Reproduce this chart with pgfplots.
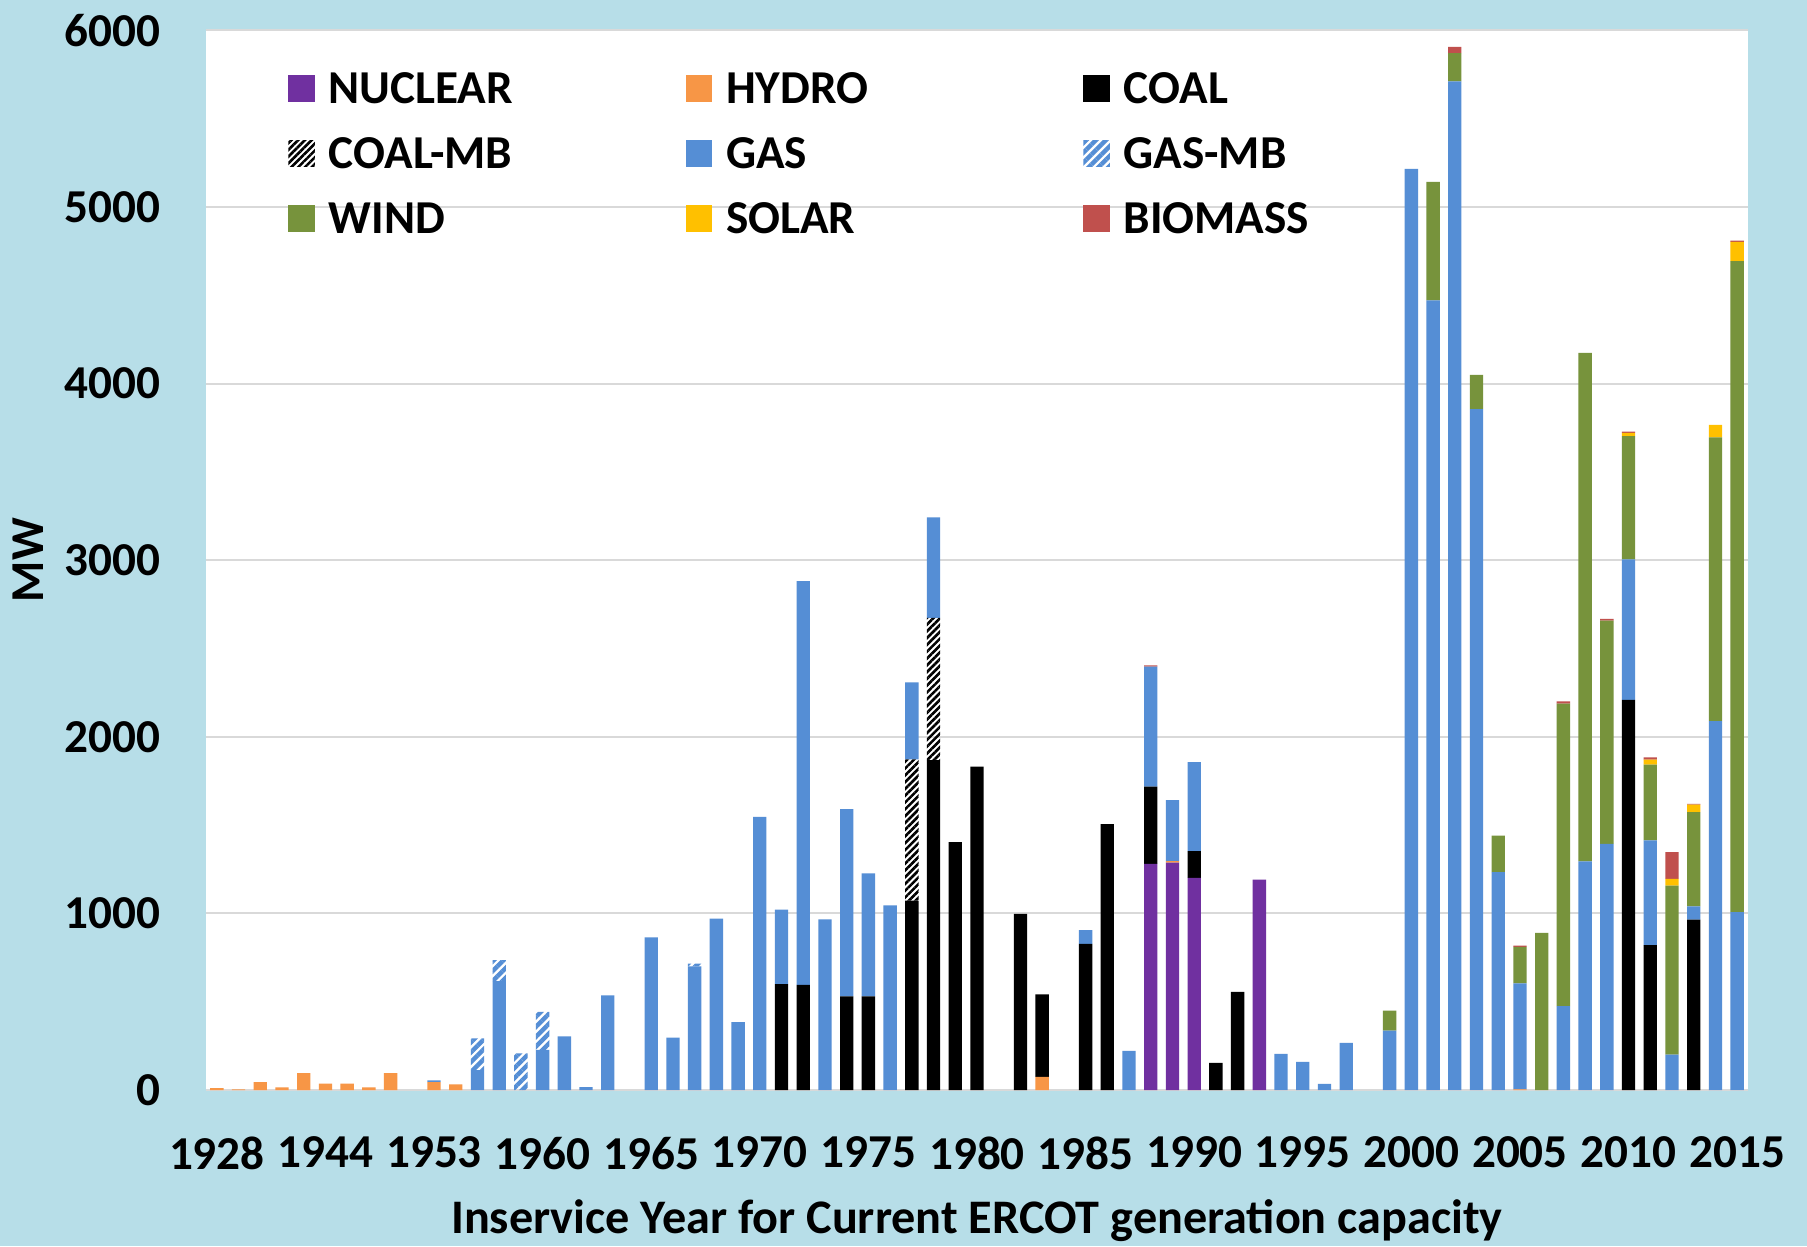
\documentclass[border=0pt]{standalone}
\usepackage{fontspec}
\setmainfont{Carlito}
\usepackage{pgfplots}
\usepackage{pgfplotstable}
\pgfplotsset{compat=1.18}
\usetikzlibrary{patterns.meta}

\definecolor{bgblue}{HTML}{B7DEE8}
\definecolor{gridgray}{HTML}{D9D9D9}
\definecolor{nuclear}{HTML}{7030A0}
\definecolor{hydro}{HTML}{F79646}
\definecolor{gas}{HTML}{558ED5}
\definecolor{wind}{HTML}{77933C}
\definecolor{solar}{HTML}{FFC000}
\definecolor{biomass}{HTML}{C0504D}

% MW of current ERCOT capacity by in-service year (categories 0..70)
\pgfplotstableread{
x nuc hyd coal coalmb gas gasmb wind solar bio
0 0 10 0 0 0 0 0 0 0
1 0 4 0 0 0 0 0 0 0
2 0 44 0 0 0 0 0 0 0
3 0 15 0 0 0 0 0 0 0
4 0 96 0 0 0 0 0 0 0
5 0 36 0 0 0 0 0 0 0
6 0 36 0 0 0 0 0 0 0
7 0 15 0 0 0 0 0 0 0
8 0 96 0 0 0 0 0 0 0
9 0 0 0 0 0 0 0 0 0
10 0 44 0 0 10 0 0 0 0
11 0 32 0 0 0 0 0 0 0
12 0 0 0 0 113 180 0 0 0
13 0 0 0 0 617 119 0 0 0
14 0 0 0 0 0 208 0 0 0
15 0 0 0 0 227 215 0 0 0
16 0 0 0 0 304 0 0 0 0
17 0 0 0 0 17 0 0 0 0
18 0 0 0 0 536 0 0 0 0
19 0 0 0 0 0 0 0 0 0
20 0 0 0 0 864 0 0 0 0
21 0 0 0 0 296 0 0 0 0
22 0 0 0 0 700 15 0 0 0
23 0 0 0 0 970 0 0 0 0
24 0 0 0 0 385 0 0 0 0
25 0 0 0 0 1547 0 0 0 0
26 0 0 600 0 422 0 0 0 0
27 0 0 595 0 2287 0 0 0 0
28 0 0 0 0 966 0 0 0 0
29 0 0 530 0 1060 0 0 0 0
30 0 0 530 0 696 0 0 0 0
31 0 0 0 0 1046 0 0 0 0
32 0 0 1072 800 436 0 0 0 0
33 0 0 1868 805 569 0 0 0 0
34 0 0 1404 0 0 0 0 0 0
35 0 0 1831 0 0 0 0 0 0
36 0 0 0 0 0 0 0 0 0
37 0 0 997 0 0 0 0 0 0
38 0 74 468 0 0 0 0 0 0
39 0 0 0 0 0 0 0 0 0
40 0 0 827 0 79 0 0 0 0
41 0 0 1505 0 0 0 0 0 0
42 0 0 0 0 221 0 0 0 0
43 1280 0 438 0 679 0 0 0 8
44 1287 9 0 0 345 0 0 0 0
45 1201 0 152 0 504 0 0 0 0
46 0 0 153 0 0 0 0 0 0
47 0 0 555 0 0 0 0 0 0
48 1191 0 0 0 0 0 0 0 0
49 0 0 0 0 204 0 0 0 0
50 0 0 0 0 159 0 0 0 0
51 0 0 0 0 34 0 0 0 0
52 0 0 0 0 267 0 0 0 0
53 0 0 0 0 0 0 0 0 0
54 0 0 0 0 336 0 113 0 0
55 0 0 0 0 5216 0 0 0 0
56 0 0 0 0 4471 0 671 0 0
57 0 0 0 0 5712 0 159 0 35
58 0 0 0 0 3855 0 194 0 0
59 0 0 0 0 1234 0 206 0 0
60 0 3 0 0 601 0 206 0 8
61 0 0 0 0 0 0 890 0 0
62 0 0 0 0 475 0 1713 0 12
63 0 0 0 0 1295 0 2879 0 0
64 0 0 0 0 1394 0 1264 0 10
65 0 0 2209 0 796 0 698 18 7
66 0 0 821 0 592 0 430 28 12
67 0 0 0 0 200 0 957 38 152
68 0 0 965 0 75 0 534 42 4
69 0 0 0 0 2089 0 1606 71 0
70 0 0 0 0 1007 0 3687 109 7
}\ercot

\begin{document}
\begin{tikzpicture}
\path[use as bounding box] (-103pt,-78pt) rectangle (800.5pt,545pt);
\fill[bgblue] (-103pt,-78pt) rectangle (800.5pt,545pt);
\begin{axis}[
  at={(0,0)}, anchor=south west,
  scale only axis, width=771pt, height=529.8pt,
  ybar stacked, bar width=6.67pt,
  xmin=-0.5, xmax=70.5, ymin=0, ymax=6000,
  axis background/.style={fill=white},
  axis line style={draw=none},
  major tick length=0pt,
  ymajorgrids, grid style={draw=gridgray, line width=1pt},
  xtick={0,5,...,70},
  xticklabels={1928,1944,1953,1960,1965,1970,1975,1980,1985,1990,1995,2000,2005,2010,2015},
  ytick={0,1000,...,6000},
  yticklabels={0,1000,2000,3000,4000,5000,6000},
  every tick label/.append style={font=\fontsize{23.6}{28}\selectfont\bfseries, inner sep=0pt},
  xticklabel style={anchor=north, yshift=-23.3pt},
  yticklabel style={anchor=east, xshift=-22.6pt},
  xlabel={Inservice Year for Current ERCOT generation capacity},
  xlabel style={at={(axis description cs:0.5,-0.1350)}, anchor=base,
    font=\fontsize{24.1}{29}\selectfont\bfseries},
  ylabel={MW},
  ylabel style={at={(axis description cs:-0.1055,0.5)}, anchor=base, rotate=0,
    font=\fontsize{23.6}{28}\selectfont\bfseries},
  legend columns=3,
  legend image code/.code={\path[#1,draw=none] (0pt,0.75pt) rectangle (13.3pt,14.05pt);},
  legend style={at={(axis description cs:0.0534,0.9689)}, anchor=north west,
    draw=none, fill=none, inner sep=0pt, outer sep=0pt,
    row sep=0pt, column sep=0pt,
    font=\fontsize{23.6}{28}\selectfont\bfseries,
    cells={anchor=base west},
    nodes={inner sep=0pt, text width=178.6pt, align=left, text height=20pt, text depth=12.5pt},
    /tikz/every odd column/.append style={column sep=6.85pt}},
]
\addplot[draw=none, fill=nuclear] table[x=x, y=nuc] {\ercot};
\addplot[draw=none, fill=hydro] table[x=x, y=hyd] {\ercot};
\addplot[draw=none, fill=black] table[x=x, y=coal] {\ercot};
\addplot[draw=none, pattern={Lines[angle=45, distance=2.4pt, line width=1.3pt]}, pattern color=black] table[x=x, y=coalmb] {\ercot};
\addplot[draw=none, fill=gas] table[x=x, y=gas] {\ercot};
\addplot[draw=none, pattern={Lines[angle=45, distance=3.5pt, line width=2.2pt]}, pattern color=gas] table[x=x, y=gasmb] {\ercot};
\addplot[draw=none, fill=wind] table[x=x, y=wind] {\ercot};
\addplot[draw=none, fill=solar] table[x=x, y=solar] {\ercot};
\addplot[draw=none, fill=biomass] table[x=x, y=bio] {\ercot};
\legend{NUCLEAR,HYDRO,COAL,COAL-MB,GAS,GAS-MB,WIND,SOLAR,BIOMASS}
\end{axis}
\end{tikzpicture}
\end{document}
